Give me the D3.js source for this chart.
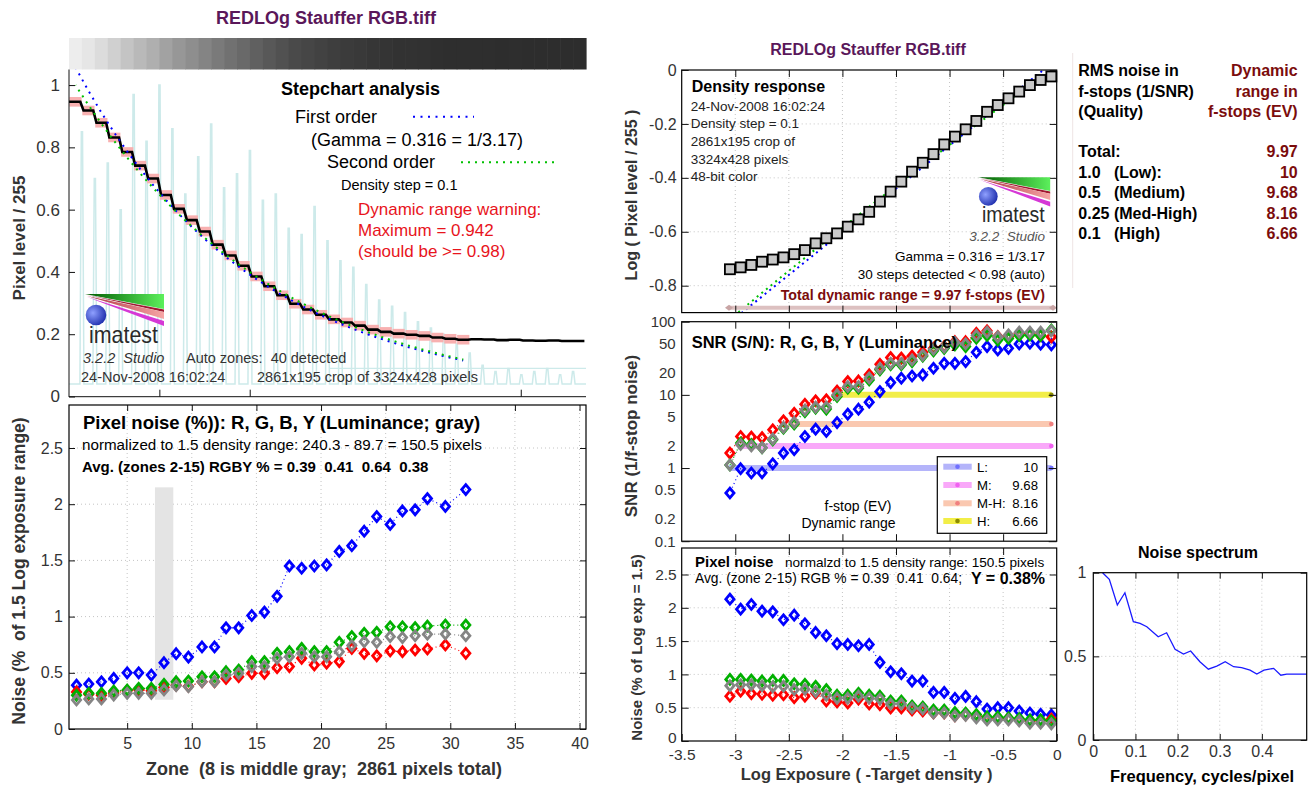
<!DOCTYPE html>
<html>
<head>
<meta charset="utf-8">
<script src="https://cdn.jsdelivr.net/npm/d3@7"></script>
<style>
  body { margin: 0; background: #fff; }
  svg { display: block; }
</style>
</head>
<body>
<div id="chart"></div>
<script>
// ---------- values ----------
// zone order: zone 1 (lightest) ... zone 31
const logExposure = [-0.05,-0.15,-0.25,-0.35,-0.45,-0.55,-0.65,-0.75,-0.85,-0.95,-1.05,-1.15,-1.25,-1.35,-1.45,-1.55,
  -1.65,-1.75,-1.85,-1.95,-2.05,-2.15,-2.25,-2.35,-2.45,-2.55,-2.65,-2.75,-2.85,-2.95,-3.05];
const densityLog = [-0.024,-0.037,-0.056,-0.080,-0.105,-0.130,-0.155,-0.189,-0.220,-0.247,-0.276,-0.312,-0.344,-0.377,
  -0.414,-0.451,-0.488,-0.526,-0.554,-0.581,-0.606,-0.624,-0.643,-0.668,-0.683,-0.695,-0.703,-0.711,-0.723,-0.732,-0.739];
// levels of the undetected zones 32..40 (pixel level / 255)
const tailLevel = [0.184,0.183,0.181,0.182,0.180,0.179,0.180,0.178,0.178];
// light cyan spikes at zone boundaries 1..39
const spikeTop = [0.85,0.7,0.75,0.6,0.97,0.82,1.0,0.86,0.65,0.77,0.875,0.67,0.715,0.79,0.63,0.65,0.54,0.52,0.61,0.5,
  0.436,0.415,0.36,0.31,0.29,0.27,0.24,0.22,0.2,0.17,0.14,0.1,0.08,0.09,0.07,0.08,0.09,0.07,0.08];

// fit coefficients in log space: a + b*x + c*x^2
const fitFirst = [0.04, 0.32, 0];
const fitSecond = [0.0142, 0.2842, -0.00778];

// zone position of each noise marker
const zoneMarker = [1.08,2.03,3.01,3.96,5.0,5.89,6.87,7.85,8.79,9.74,10.79,11.76,12.65,13.63,14.64,15.62,16.6,17.55,
  18.5,19.48,20.43,21.41,22.38,23.34,24.31,25.35,26.3,27.28,28.23,29.62,31.2];
const noiseB = [0.39,0.40,0.42,0.45,0.50,0.50,0.48,0.59,0.67,0.64,0.73,0.73,0.90,0.90,1.01,1.04,1.18,1.45,1.43,1.45,
  1.46,1.58,1.63,1.76,1.89,1.82,1.94,1.95,2.05,1.98,2.13];
const noiseR = [0.33,0.31,0.30,0.32,0.34,0.35,0.34,0.37,0.39,0.38,0.42,0.42,0.45,0.465,0.495,0.495,0.546,0.555,0.629,
  0.57,0.585,0.60,0.717,0.673,0.651,0.694,0.688,0.703,0.712,0.747,0.673];
const noiseG = [0.30,0.317,0.317,0.338,0.347,0.362,0.362,0.397,0.421,0.427,0.465,0.465,0.51,0.525,0.599,0.599,0.673,
  0.688,0.717,0.688,0.688,0.771,0.822,0.851,0.86,0.91,0.91,0.902,0.916,0.925,0.925];
const noiseY = [0.258,0.267,0.267,0.302,0.317,0.317,0.317,0.347,0.385,0.376,0.42,0.42,0.48,0.495,0.555,0.555,0.629,
  0.643,0.673,0.643,0.643,0.688,0.742,0.777,0.771,0.822,0.813,0.83,0.843,0.845,0.83];

const snrB = [48.3,49.3,50.8,49.7,43.2,41.1,45.7,38.2,28.5,27.0,27.0,23.1,18.8,18.1,16.9,14.7,11.1,7.94,6.37,5.45,
  4.18,3.16,3.4,2.7,1.78,1.6,1.14,0.86,0.855,0.98,0.456];
const snrR = [62,65,69,69,63,62.6,75,69.3,53.3,53.3,45.7,43.3,38.2,33.9,31.8,32.3,26.2,18.8,15.5,15.2,11.3,8.56,8.3,
  7.45,5.6,4.42,3.34,2.6,2.65,2.7,1.6];
const snrG = [77,65,66,65,59,56,65,59.4,45.7,48.3,43.3,40,33.9,28.5,25.8,25.8,22,16,12.3,12.3,9.5,6.4,6.6,5.9,4.0,
  3.5,2.43,1.9,2.1,2.2,1.1];
const snrY = [75,72,72,72,66,62,72,65,50,52,45,42,35,30,27,27,23,17,13,13,10,6.8,6.8,6.2,4.2,3.6,2.5,1.9,2.0,2.1,1.1];

// dynamic range bars
const drNames = ['L:', 'M:', 'M-H:', 'H:'];
const drStops = ['10', '9.68', '8.16', '6.66'];
const drSnr = [1, 2, 4, 10];
const drStart = [-3.06, -2.96, -2.51, -2.05];
const drColor = ['#b4b4fa', '#f9a8f9', '#fac8b0', '#f2ee48'];
const drDot = ['#7070ff', '#f060f0', '#f08080', '#8a8a00'];

const qualityRows = ['Total:', '1.0   (Low):', '0.5   (Medium)', '0.25 (Med-High)', '0.1   (High)'];
const qualityValues = ['9.97', '10', '9.68', '8.16', '6.66'];

const specFreq = [0.022,0.038,0.057,0.075,0.095,0.111,0.127,0.154,0.174,0.194,0.214,0.231,0.253,0.273,0.293,0.313,
  0.333,0.352,0.372,0.388,0.405,0.428,0.445,0.459,0.507];
const specVal = [1.0,0.96,0.807,0.88,0.707,0.697,0.677,0.617,0.641,0.542,0.514,0.532,0.468,0.423,0.442,0.468,0.438,
  0.432,0.418,0.394,0.418,0.428,0.387,0.394,0.394];

// ---------- setup ----------
const W = 1311, H = 785;
const FONT = '"Liberation Sans", Arial, Helvetica, sans-serif';
const colR = '#ff0000', colG = '#00b000', colB = '#0000ff', colY = '#858585';

const svg = d3.select('#chart').append('svg')
  .attr('width', W).attr('height', H)
  .attr('font-family', FONT);
svg.append('rect').attr('width', W).attr('height', H).attr('fill', '#fff');

const defs = svg.append('defs');
const gGreen = defs.append('linearGradient').attr('id', 'gGreen');
gGreen.append('stop').attr('offset', '0%').attr('stop-color', '#005a00');
gGreen.append('stop').attr('offset', '100%').attr('stop-color', '#5cf05c');
const gPink = defs.append('linearGradient').attr('id', 'gPink');
gPink.append('stop').attr('offset', '0%').attr('stop-color', '#b03040');
gPink.append('stop').attr('offset', '100%').attr('stop-color', '#f6a6a6');
const gBall = defs.append('radialGradient').attr('id', 'gBall').attr('cx', '35%').attr('cy', '40%').attr('r', '65%');
gBall.append('stop').attr('offset', '0%').attr('stop-color', '#8fa0ff');
gBall.append('stop').attr('offset', '100%').attr('stop-color', '#2232b0');

function addText(g, x, y, s, o = {}) {
  return g.append('text')
    .attr('x', x).attr('y', y)
    .attr('font-size', o.size || 14)
    .attr('font-weight', o.bold ? 'bold' : null)
    .attr('font-style', o.italic ? 'italic' : null)
    .attr('text-anchor', o.anchor || 'start')
    .attr('fill', o.fill || '#000')
    .attr('transform', o.rot ? `rotate(-90,${x},${y})` : null)
    .style('white-space', 'pre')
    .text(s);
}

// d3 axis used for ticks (inward) and labels
function axis(g, gen, scale, vals, tx, ty, len, fmt, size, pad) {
  const ax = gen(scale).tickValues(vals).tickSizeInner(-len).tickSizeOuter(0)
    .tickPadding(pad || 5).tickFormat(fmt || '');
  const a = g.append('g').attr('transform', `translate(${tx},${ty})`).call(ax);
  a.select('.domain').remove();
  a.attr('font-family', FONT).attr('font-size', size || 15);
  a.selectAll('text').attr('fill', '#333');
  a.selectAll('line').attr('stroke', '#111');
  return a;
}

function frame(g, x0, y0, x1, y1) {
  g.append('rect').attr('x', x0).attr('y', y0).attr('width', x1 - x0).attr('height', y1 - y0)
    .attr('fill', 'none').attr('stroke', '#000').attr('stroke-width', 1.2);
}

function grid(g, xs, ys, x, y, x0, y0, x1, y1) {
  g.selectAll(null).data(xs).join('line')
    .attr('x1', d => x(d)).attr('x2', d => x(d)).attr('y1', y0).attr('y2', y1)
    .attr('stroke', '#c4c4c4').attr('stroke-dasharray', '1,3');
  g.selectAll(null).data(ys).join('line')
    .attr('y1', d => y(d)).attr('y2', d => y(d)).attr('x1', x0).attr('x2', x1)
    .attr('stroke', '#c4c4c4').attr('stroke-dasharray', '1,3');
}

const diamond = 'M0,-4.9L4.1,0L0,4.9L-4.1,0Z';
function series(g, xs, ys, x, y, color) {
  const pts = d3.zip(xs, ys);
  g.append('path').datum(pts)
    .attr('d', d3.line().x(d => x(d[0])).y(d => y(d[1])))
    .attr('fill', 'none').attr('stroke', color).attr('stroke-width', 1.2).attr('stroke-dasharray', '1,3');
  g.selectAll(null).data(pts).join('path')
    .attr('d', diamond)
    .attr('transform', d => `translate(${x(d[0])},${y(d[1])})`)
    .attr('fill', 'none').attr('stroke', color).attr('stroke-width', 2.8);
}

function logo(g, x, y, s) {
  const lg = g.append('g').attr('transform', `translate(${x},${y}) scale(${s})`);
  lg.append('polygon').attr('points', '0,0 79,0 79,15').attr('fill', 'url(#gGreen)');
  lg.append('polygon').attr('points', '2,1 79,15.5 79,18').attr('fill', '#a01830');
  lg.append('polygon').attr('points', '2,2 79,18 79,25').attr('fill', 'url(#gPink)');
  lg.append('polygon').attr('points', '2,3 79,27 79,32').attr('fill', '#d638d6');
  lg.append('circle').attr('cx', 11).attr('cy', 21).attr('r', 10.3).attr('fill', 'url(#gBall)');
  lg.append('text').attr('x', 4).attr('y', 49).attr('font-size', 24).attr('fill', '#2a2a2a')
    .attr('textLength', 69).attr('lengthAdjust', 'spacingAndGlyphs').text('imatest');
}

function poly(c, x) { return c[0] + c[1] * x + c[2] * x * x; }

// ---------- top-left: stepchart ----------
const tl = svg.append('g');
const zoneX = d3.scaleLinear().domain([0.5, 40.5]).range([69, 586]);
const pixX = d3.scaleLinear().domain([0, 2861]).range([69, 586]);
const tlY = d3.scaleLinear().domain([0, 1.05]).range([396.5, 69.5]);
const zoneOfLog = d3.scaleLinear().domain([-0.05, -3.05]).range([1, 31]);
const stepLevel = densityLog.map(v => Math.pow(10, v)).concat(tailLevel);

addText(tl, 326, 24, 'REDLOg Stauffer RGB.tiff', { size: 18, bold: true, anchor: 'middle', fill: '#5a175a' });

// gray patches of the step chart
tl.selectAll(null).data(stepLevel).join('rect')
  .attr('x', (d, i) => zoneX(i + 0.5)).attr('y', 38)
  .attr('width', zoneX(1.5) - zoneX(0.5) + 0.6).attr('height', 31.5)
  .attr('fill', d => { const v = Math.round(d * 250); return d3.rgb(v, v, v); });

tl.append('clipPath').attr('id', 'clipTL').append('rect')
  .attr('x', 69).attr('y', 69.5).attr('width', 517).attr('height', 327.5);
const tlp = tl.append('g').attr('clip-path', 'url(#clipTL)');

// light cyan spike trace
const spikePts = [[69, 0.04]];
spikeTop.forEach((h, i) => {
  const xb = zoneX(i + 1.5);
  spikePts.push([xb - 2, 0.04], [xb - 0.6, h], [xb + 0.6, h], [xb + 2, 0.04]);
});
spikePts.push([586, 0.04]);
tlp.append('path').datum(spikePts)
  .attr('d', d3.line().x(d => d[0]).y(d => tlY(d[1])))
  .attr('fill', 'none').attr('stroke', '#cdeaea').attr('stroke-width', 1.5);
tlp.append('line').attr('x1', 329).attr('x2', 586).attr('y1', tlY(0.09)).attr('y2', tlY(0.09))
  .attr('stroke', '#cdeaea').attr('stroke-width', 1.3);

// pink zone means
tlp.selectAll(null).data(densityLog).join('rect')
  .attr('x', (d, i) => zoneX(i + 0.5) + 0.4).attr('width', 12.2)
  .attr('y', d => tlY(Math.pow(10, d)) - 4.8).attr('height', 9.6)
  .attr('fill', '#f8b0b0');

// black step profile
const stepPts = [];
stepLevel.forEach((v, i) => {
  stepPts.push([zoneX(i + 0.5) + (i ? 1.6 : 0), v], [zoneX(i + 1.5) - 1.6, v]);
});
tlp.append('path').datum(stepPts)
  .attr('d', d3.line().x(d => d[0]).y(d => tlY(d[1])))
  .attr('fill', 'none').attr('stroke', '#000').attr('stroke-width', 2.6);

// fits
[[fitFirst, colB, 0], [fitSecond, '#00c000', 1.5]].forEach(([c, col, off]) => {
  tlp.append('path').datum(logExposure)
    .attr('d', d3.line().x(x => zoneX(zoneOfLog(x))).y(x => tlY(Math.pow(10, poly(c, x)))))
    .attr('fill', 'none').attr('stroke', col).attr('stroke-width', 2)
    .attr('stroke-dasharray', '2,5').attr('stroke-dashoffset', off);
});

tl.append('line').attr('x1', 69).attr('x2', 69).attr('y1', 69.5).attr('y2', 397).attr('stroke', '#111');
tl.append('line').attr('x1', 69).attr('x2', 586).attr('y1', 396.7).attr('y2', 396.7).attr('stroke', '#111');
axis(tl, d3.axisLeft, tlY, [0, 0.2, 0.4, 0.6, 0.8, 1], 69, 0, 6, d => String(d), 17, 9);
axis(tl, d3.axisBottom, pixX, [500, 1000, 2500], 0, 396.7, 7);

addText(tl, 25, 238, 'Pixel level / 255', { size: 17, bold: true, anchor: 'middle', rot: true, fill: '#333' });
addText(tl, 281, 95, 'Stepchart analysis', { size: 18, bold: true });
addText(tl, 295, 123, 'First order', { size: 18 });
tl.append('line').attr('x1', 413).attr('x2', 474).attr('y1', 116.7).attr('y2', 116.7)
  .attr('stroke', colB).attr('stroke-width', 2).attr('stroke-dasharray', '2,5.5');
addText(tl, 311, 145.7, '(Gamma = 0.316 = 1/3.17)', { size: 18 });
addText(tl, 327, 168.3, 'Second order', { size: 18 });
tl.append('line').attr('x1', 461).attr('x2', 556).attr('y1', 162.3).attr('y2', 162.3)
  .attr('stroke', '#00c000').attr('stroke-width', 2).attr('stroke-dasharray', '2,5');
addText(tl, 341, 190, 'Density step = 0.1', { size: 14.5 });
addText(tl, 358, 215, 'Dynamic range warning:', { size: 17, fill: '#e8141c' });
addText(tl, 358, 235.7, 'Maximum = 0.942', { size: 17, fill: '#e8141c' });
addText(tl, 358, 256.7, '(should be >= 0.98)', { size: 17, fill: '#e8141c' });
logo(tl, 85, 294, 1);
addText(tl, 83, 363.3, '3.2.2  Studio', { size: 14.5, italic: true, fill: '#333' });
addText(tl, 186, 363.3, 'Auto zones:  40 detected', { size: 14.5, fill: '#333' });
addText(tl, 81, 381.7, '24-Nov-2008 16:02:24', { size: 14.5, fill: '#333' });
addText(tl, 257, 381.7, '2861x195 crop of 3324x428 pixels', { size: 14.5, fill: '#333' });

// ---------- bottom-left: noise vs zone ----------
const bl = svg.append('g');
const blY = d3.scaleLinear().domain([0, 2.5]).range([729, 448]);
const blTicks = [5, 10, 15, 20, 25, 30, 35, 40];
const blYTicks = [0, 0.5, 1, 1.5, 2, 2.5];
grid(bl, blTicks, blYTicks.slice(1), zoneX, blY, 69, 405, 586, 729);
bl.append('rect').attr('x', zoneX(7.15)).attr('width', zoneX(8.57) - zoneX(7.15))
  .attr('y', blY(2.15)).attr('height', blY(0.26) - blY(2.15)).attr('fill', '#e4e4e4');
series(bl, zoneMarker, noiseB, zoneX, blY, colB);
series(bl, zoneMarker, noiseR, zoneX, blY, colR);
series(bl, zoneMarker, noiseG, zoneX, blY, colG);
series(bl, zoneMarker, noiseY, zoneX, blY, colY);
frame(bl, 69, 405, 586, 729);
axis(bl, d3.axisLeft, blY, blYTicks, 69, 0, 6, d => String(d), 16, 6);
axis(bl, d3.axisRight, blY, blYTicks, 586, 0, 6);
axis(bl, d3.axisBottom, zoneX, blTicks, 0, 729, 6, d => String(d), 16, 9);
axis(bl, d3.axisTop, zoneX, blTicks, 0, 405, 6);
addText(bl, 83, 429.3, 'Pixel noise (%)): R, G, B, Y (Luminance; gray)', { size: 18.5, bold: true });
addText(bl, 82, 450, 'normalized to 1.5 density range: 240.3 - 89.7 = 150.5 pixels', { size: 15.2 });
addText(bl, 82, 472, 'Avg. (zones 2-15) RGBY % = 0.39  0.41  0.64  0.38', { size: 15, bold: true });
addText(bl, 25, 571, 'Noise (%  of 1.5 Log exposure range)', { size: 17.5, bold: true, anchor: 'middle', rot: true, fill: '#333' });
addText(bl, 324, 775, 'Zone  (8 is middle gray;  2861 pixels total)', { size: 18, bold: true, anchor: 'middle', fill: '#333' });

// ---------- right column shared x ----------
const xR = d3.scaleLinear().domain([-3.5, 0]).range([681.7, 1056.7]);
const xRTicks = [-3, -2.5, -2, -1.5, -1, -0.5];

// ---------- density response ----------
const dp = svg.append('g');
const dY = d3.scaleLinear().domain([-0.8, 0]).range([285.7, 70]);
const dYTicks = [-0.8, -0.6, -0.4, -0.2, 0];
addText(dp, 868, 55, 'REDLOg Stauffer RGB.tiff', { size: 16, bold: true, anchor: 'middle', fill: '#5a175a' });
grid(dp, xRTicks, dYTicks.slice(0, 4), xR, dY, 681.7, 70, 1056.7, 312.6);
dp.append('clipPath').attr('id', 'clipD').append('rect')
  .attr('x', 681.7).attr('y', 70).attr('width', 375).attr('height', 242.6);
const dpc = dp.append('g').attr('clip-path', 'url(#clipD)');
[[fitFirst, colB, 0], [fitSecond, '#00c000', 2]].forEach(([c, col, off]) => {
  dpc.append('path').datum(logExposure)
    .attr('d', d3.line().x(x => xR(x)).y(x => dY(poly(c, x))))
    .attr('fill', 'none').attr('stroke', col).attr('stroke-width', 2)
    .attr('stroke-dasharray', '2,4').attr('stroke-dashoffset', off);
});
dp.selectAll(null).data(d3.zip(logExposure, densityLog)).join('rect')
  .attr('x', d => xR(d[0]) - 5).attr('y', d => dY(d[1]) - 5)
  .attr('width', 10).attr('height', 10)
  .attr('fill', '#c8c8c8').attr('stroke', '#000').attr('stroke-width', 1.8);
// total dynamic range arrow
dp.append('line').attr('x1', 729).attr('x2', 1053).attr('y1', 307.7).attr('y2', 307.7)
  .attr('stroke', '#dcc0c0').attr('stroke-width', 4);
[729, 1053].forEach(x => dp.append('path').attr('d', 'M-4,0L0,-3L4,0L0,3Z')
  .attr('transform', `translate(${x},307.7)`).attr('fill', '#c8a4a4'));
frame(dp, 681.7, 70, 1056.7, 312.6);
axis(dp, d3.axisLeft, dY, dYTicks, 681.7, 0, 7, d => String(+d.toFixed(1)), 16, 5);
axis(dp, d3.axisRight, dY, dYTicks, 1056.7, 0, 7);
axis(dp, d3.axisTop, xR, xRTicks, 0, 70, 7);
axis(dp, d3.axisBottom, xR, xRTicks, 0, 312.6, 7);
addText(dp, 691.7, 91.7, 'Density response', { size: 16, bold: true });
['24-Nov-2008 16:02:24', 'Density step = 0.1', '2861x195 crop of', '3324x428 pixels', '48-bit color']
  .forEach((s, i) => addText(dp, 690.7, 110.7 + i * 17.6, s, { size: 13.5, fill: '#222' }));
logo(dp, 978.3, 177.3, 0.91);
addText(dp, 1045, 240.7, '3.2.2  Studio', { size: 13.5, italic: true, anchor: 'end', fill: '#555' });
addText(dp, 1045, 261, 'Gamma = 0.316 = 1/3.17', { size: 13.5, anchor: 'end' });
addText(dp, 1045, 279.3, '30 steps detected < 0.98 (auto)', { size: 13.5, anchor: 'end' });
addText(dp, 1045, 300, 'Total dynamic range = 9.97 f-stops (EV)', { size: 14.2, bold: true, anchor: 'end', fill: '#7b0c0c' });
addText(dp, 636.5, 195, 'Log ( Pixel level / 255 )', { size: 16, bold: true, anchor: 'middle', rot: true, fill: '#333' });

// ---------- SNR ----------
const sp = svg.append('g');
const sY = d3.scaleLog().domain([0.1, 100]).range([541.2, 321.7]);
sp.selectAll(null).data(drSnr).join('line')
  .attr('x1', (d, i) => xR(drStart[i])).attr('x2', xR(-0.05))
  .attr('y1', d => sY(d)).attr('y2', d => sY(d))
  .attr('stroke', (d, i) => drColor[i]).attr('stroke-width', 6);
sp.selectAll(null).data(drSnr).join('circle')
  .attr('cx', xR(-0.05)).attr('cy', d => sY(d)).attr('r', 2.3)
  .attr('fill', (d, i) => drDot[i]);
series(sp, logExposure, snrB, xR, sY, colB);
series(sp, logExposure, snrR, xR, sY, colR);
series(sp, logExposure, snrG, xR, sY, colG);
series(sp, logExposure, snrY, xR, sY, colY);
frame(sp, 681.7, 321.7, 1056.7, 541.2);
axis(sp, d3.axisLeft, sY, [0.1, 0.2, 0.5, 1, 2, 5, 10, 20, 50, 100], 681.7, 0, 0, d => String(d), 15, 6);
axis(sp, d3.axisLeft, sY, [0.1, 1, 10, 100], 681.7, 0, 8);
axis(sp, d3.axisRight, sY, [0.1, 1, 10, 100], 1056.7, 0, 8);
axis(sp, d3.axisTop, xR, xRTicks, 0, 321.7, 7);
axis(sp, d3.axisBottom, xR, xRTicks, 0, 541.2, 7);
addText(sp, 691.7, 348.3, 'SNR (S/N): R, G, B, Y (Luminance)', { size: 16.5, bold: true });
addText(sp, 858, 511, 'f-stop (EV)', { size: 14, anchor: 'middle' });
addText(sp, 848.5, 528.3, 'Dynamic range', { size: 14, anchor: 'middle' });
addText(sp, 636.5, 436, 'SNR (1/f-stop noise)', { size: 17, bold: true, anchor: 'middle', rot: true, fill: '#333' });
// legend
const lgd = sp.append('g');
lgd.append('rect').attr('x', 937.3).attr('y', 456.7).attr('width', 109.4).attr('height', 76.6)
  .attr('fill', '#fff').attr('stroke', '#000').attr('stroke-width', 1.2);
const rowY = [466.7, 485, 503.3, 521];
drNames.forEach((n, i) => {
  lgd.append('line').attr('x1', 943.3).attr('x2', 971.7).attr('y1', rowY[i]).attr('y2', rowY[i])
    .attr('stroke', drColor[i]).attr('stroke-width', 6);
  lgd.append('circle').attr('cx', 957.5).attr('cy', rowY[i]).attr('r', 2.3).attr('fill', drDot[i]);
  addText(lgd, 977, rowY[i] + 5, n, { size: 13.2 });
  addText(lgd, 1038, rowY[i] + 5, drStops[i], { size: 13.2, anchor: 'end' });
});

// ---------- bottom-right: noise vs log exposure ----------
const br = svg.append('g');
const nY = d3.scaleLinear().domain([0, 2.5]).range([741, 574.5]);
grid(br, xRTicks, blYTicks.slice(1), xR, nY, 681.7, 548, 1056.7, 741);
series(br, logExposure, noiseB, xR, nY, colB);
series(br, logExposure, noiseR, xR, nY, colR);
series(br, logExposure, noiseG, xR, nY, colG);
series(br, logExposure, noiseY, xR, nY, colY);
frame(br, 681.7, 548, 1056.7, 741);
axis(br, d3.axisLeft, nY, blYTicks, 681.7, 0, 7, d => String(d), 15.5, 5)
  .selectAll('.tick text').filter(d => d === 0).attr('dy', '0.1em');
axis(br, d3.axisRight, nY, blYTicks, 1056.7, 0, 7);
axis(br, d3.axisBottom, xR, [-3.5, ...xRTicks, 0], 0, 741, 7, d => String(d), 15.5, 8);
axis(br, d3.axisTop, xR, xRTicks, 0, 548, 7);
addText(br, 695, 566.7, 'Pixel noise', { size: 15, bold: true });
addText(br, 785, 566.7, 'normalzd to 1.5 density range: 150.5 pixels', { size: 13.6 });
addText(br, 695, 583.3, 'Avg. (zone 2-15) RGB % = 0.39  0.41  0.64;', { size: 13.8 });
addText(br, 1045, 584, 'Y = 0.38%', { size: 16, bold: true, anchor: 'end' });
addText(br, 641.5, 647.5, 'Noise (% of Log exp = 1.5)', { size: 15, bold: true, anchor: 'middle', rot: true, fill: '#333' });
addText(br, 866.7, 780, 'Log Exposure ( -Target density )', { size: 16.5, bold: true, anchor: 'middle', fill: '#333' });

// ---------- quality table ----------
const tb = svg.append('g');
tb.append('line').attr('x1', 1072.7).attr('x2', 1072.7).attr('y1', 53).attr('y2', 288).attr('stroke', '#eee4e4');
['RMS noise in', 'f-stops (1/SNR)', '(Quality)'].forEach((s, i) =>
  addText(tb, 1078.3, 76 + i * 20.6, s, { size: 16, bold: true }));
['Dynamic', 'range in', 'f-stops (EV)'].forEach((s, i) =>
  addText(tb, 1297.7, 76 + i * 20.6, s, { size: 16, bold: true, anchor: 'end', fill: '#7b0c0c' }));
qualityRows.forEach((s, i) => {
  addText(tb, 1078.3, 157.3 + i * 20.4, s, { size: 16, bold: true });
  addText(tb, 1297.7, 157.3 + i * 20.4, qualityValues[i], { size: 16, bold: true, anchor: 'end', fill: '#7b0c0c' });
});

// ---------- noise spectrum ----------
const ns = svg.append('g');
const fX = d3.scaleLinear().domain([0, 0.5]).range([1093.3, 1304]);
const fY = d3.scaleLinear().domain([0, 1]).range([740, 572.7]);
grid(ns, [0.1, 0.2, 0.3, 0.4], [0.5], fX, fY, 1093.3, 572.7, 1306.7, 740);
ns.append('path').datum(d3.zip(specFreq, specVal))
  .attr('d', d3.line().x(d => fX(d[0])).y(d => fY(d[1])))
  .attr('fill', 'none').attr('stroke', '#1a1aff').attr('stroke-width', 1.3);
frame(ns, 1093.3, 572.7, 1306.7, 740);
axis(ns, d3.axisLeft, fY, [0, 0.5, 1], 1093.3, 0, 6, d => String(d), 16, 7);
axis(ns, d3.axisRight, fY, [0, 0.5, 1], 1306.7, 0, 6);
axis(ns, d3.axisBottom, fX, [0, 0.1, 0.2, 0.3, 0.4], 0, 740, 6, d => String(d), 16, 6);
axis(ns, d3.axisTop, fX, [0.1, 0.2, 0.3, 0.4], 0, 572.7, 6);
addText(ns, 1198, 558.3, 'Noise spectrum', { size: 16, bold: true, anchor: 'middle' });
addText(ns, 1202, 781.7, 'Frequency, cycles/pixel', { size: 16.5, bold: true, anchor: 'middle' });
</script>
</body>
</html>
